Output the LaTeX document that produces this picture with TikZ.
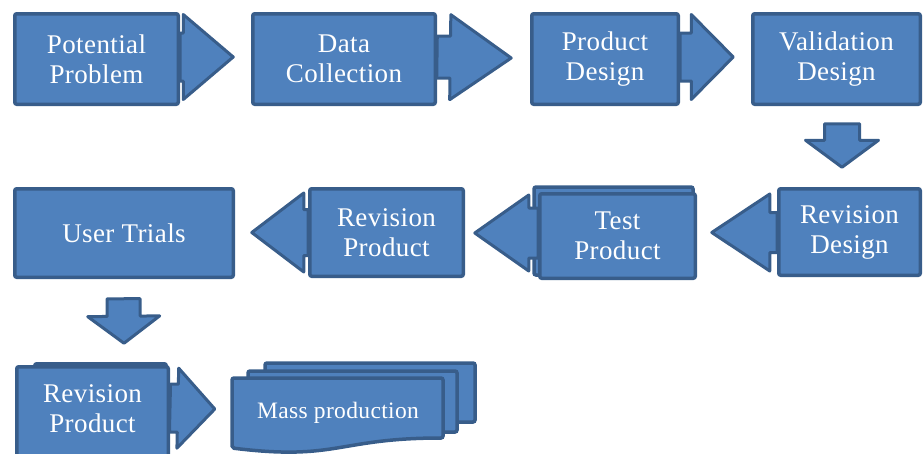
\documentclass[tikz,border=0pt]{standalone}
\usepackage{fontspec}
\setmainfont{Liberation Serif}[LetterSpace=1.5]
\usetikzlibrary{calc}
\definecolor{boxfill}{HTML}{4F81BD}
\definecolor{boxline}{HTML}{385D8A}
\pgfdeclarelayer{back}
\pgfsetlayers{back,main}
% block arrow: #1 start, #2 tip, #3 shaft half-width, #4 head half-width, #5 head length
\newcommand\blockarrow[5]{%
  \coordinate (hb) at ($(#2)!#5!(#1)$);
  \begin{pgfonlayer}{back}
  \draw[arrowbody] ($(#1)!#3!90:(#2)$) -- ($(hb)!#3!90:(#2)$) -- ($(hb)!#4!90:(#2)$)
     -- (#2) -- ($(hb)!#4!-90:(#2)$) -- ($(hb)!#3!-90:(#2)$) -- ($(#1)!#3!-90:(#2)$) -- cycle;
  \end{pgfonlayer}}
\begin{document}
\begin{tikzpicture}[x=1pt,y=-1pt,
  box/.style={draw=boxline, fill=boxfill, line width=3.5pt, rounded corners=2pt,
    text=white, align=center, inner sep=0pt, font=\fontsize{27}{30}\selectfont},
  shell/.style={draw=boxline, fill=boxfill, line width=3.5pt, rounded corners=2pt},
  arrowbody/.style={draw=boxline, fill=boxfill, line width=3pt, line join=round},
  lbl/.style={text=white, align=center, inner sep=0pt, font=\fontsize{27}{30}\selectfont}]
\useasboundingbox (0,0) rectangle (924,453);

% row 1
\node[box, minimum width=163.5pt, minimum height=90.5pt] (pp) at (96.5,59) {Potential\\Problem};
\node[box, minimum width=182.5pt, minimum height=90.5pt] (dc) at (344,59) {Data\\Collection};
\node[box, minimum width=146.5pt, minimum height=90.5pt] (pd) at (605,59) {Product\\Design};
\node[box, minimum width=167.5pt, minimum height=90.5pt] (vd) at (836.5,59) {Validation\\Design};

% row 2
\node[box, minimum width=141.5pt, minimum height=86.5pt] (rd) at (849.5,232) {Revision\\Design};
\node[box, minimum width=155.5pt, minimum height=84.5pt] (tp) at (617.5,236) {Test\\Product};
\node[box, minimum width=153.5pt, minimum height=87.5pt] (rp) at (386.5,232.5) {Revision\\Product};
\node[box, minimum width=218.5pt, minimum height=88.5pt] (ut) at (124,233) {User Trials};

% row 3
\node[box, minimum width=151.5pt, minimum height=101.5pt] (rp2) at (92.5,417.5) {};
\node[lbl] at (92.5,409) {Revision\\Product};

% stacked copies behind two of the boxes
\begin{pgfonlayer}{back}
\draw[shell] ($(tp.north west)+(-4,-5)$) rectangle ($(tp.south east)+(-4,-5)$);
\draw[shell] (34.75,363.75) rectangle (166.25,440);
\end{pgfonlayer}

% mass production: three stacked document shapes
\draw[shell] (265,363) -- (475,363) -- (475,422) .. controls (370,422) and (370,444.5) .. (265,432) -- cycle;
\draw[shell] (248,371) -- (457,371) -- (457,432) .. controls (352.5,432) and (352.5,455) .. (248,442) -- cycle;
\draw[shell] (232,378) -- (443,378) -- (443,438) .. controls (337.5,438) and (337.5,461) .. (232,448) -- cycle;
\node[inner sep=0pt, minimum width=211pt, minimum height=72pt, text=white,
  font=\fontsize{23.5}{26}\selectfont] (mp) at (338,413) {Mass production};

% flow arrows
\coordinate (a1s) at ($(pp.east)+(0,-2)$);
\coordinate (a1t) at ($(dc.west)+(-17.75,-2)$);
\blockarrow{a1s}{a1t}{24pt}{42.5pt}{50pt}
\coordinate (a2s) at ($(dc.east)+(0,-2)$);
\coordinate (a2t) at ($(pd.west)+(-18.75,-1)$);
\blockarrow{a2s}{a2t}{21pt}{42.5pt}{61pt}
\coordinate (a3s) at ($(pd.east)+(0,-2)$);
\coordinate (a3t) at ($(vd.west)+(-17.75,-2)$);
\blockarrow{a3s}{a3t}{24pt}{42.5pt}{42pt}
\coordinate (d1s) at ($(vd.south)+(5.5,17.75)$);
\coordinate (d1t) at ($(rd.north)+(-7.5,-19.75)$);
\blockarrow{d1s}{d1t}{17.5pt}{36.5pt}{27pt}
\coordinate (l1s) at ($(rd.west)+(0,0.5)$);
\coordinate (l1t) at ($(tp.east)+(14.75,-3.5)$);
\blockarrow{l1s}{l1t}{20pt}{38.5pt}{58pt}
\coordinate (l2s) at ($(tp.west)+(0,-3)$);
\coordinate (l2t) at ($(rp.east)+(9.75,0.5)$);
\blockarrow{l2s}{l2t}{25pt}{38pt}{54pt}
\coordinate (l3s) at ($(rp.west)+(0,0)$);
\coordinate (l3t) at ($(ut.east)+(16.75,-0.5)$);
\blockarrow{l3s}{l3t}{23pt}{39.5pt}{52pt}
\coordinate (d2s) at ($(ut.south)+(-0.5,19.75)$);
\coordinate (d2t) at ($(rp2.north)+(31.5,-21.75)$);
\blockarrow{d2s}{d2t}{16.5pt}{36pt}{27pt}
\coordinate (r3s) at ($(rp2.east)+(0,-9.5)$);
\coordinate (r3t) at ($(mp.west)+(-17.5,-4)$);
\blockarrow{r3s}{r3t}{24pt}{40pt}{37pt}
\end{tikzpicture}
\end{document}
